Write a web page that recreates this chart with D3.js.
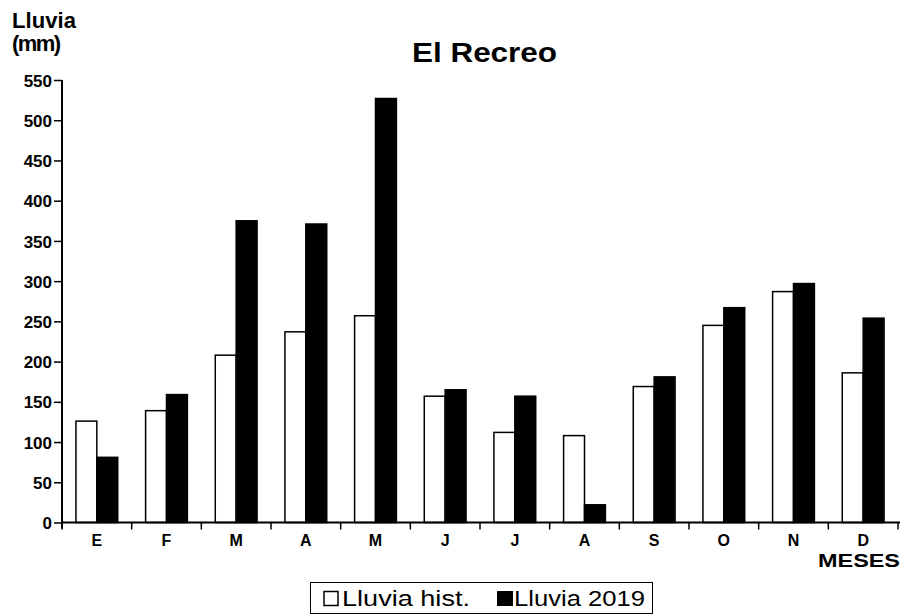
<!DOCTYPE html>
<html><head><meta charset="utf-8">
<script src="https://cdn.jsdelivr.net/npm/d3@7"></script>
<style>body{margin:0;background:#fff}svg{display:block}text{font-family:"Liberation Sans",Arial,sans-serif;font-weight:bold;fill:#000}</style>
</head><body>
<script>
const months = ["E","F","M","A","M","J","J","A","S","O","N","D"];
const lluviaHist = [126,139,208,237,257,157,112,108,169,245,287,186];
const lluvia2019 = [81,159,375,371,527,165,157,22,181,267,297,254];
const yTicks = [0,50,100,150,200,250,300,350,400,450,500,550];
const seriesNames = ["Lluvia hist.","Lluvia 2019"];

const W=904,H=614;
const svg=d3.select("body").append("svg").attr("width",W).attr("height",H);
const x0=62,x1=898,yb=522.5,yt=80;
const x=d3.scaleBand().domain(d3.range(months.length)).range([x0,x1]).paddingInner(0.4).paddingOuter(0.2);
const xs=d3.scaleBand().domain([0,1]).range([0,x.bandwidth()]);
const y=d3.scaleLinear().domain([0,550]).range([yb,yt]);

// bars
const g=svg.append("g");
months.forEach((m,i)=>{
  [lluviaHist[i],lluvia2019[i]].forEach((v,j)=>{
    g.append("rect").attr("x",x(i)+xs(j)).attr("y",y(v)).attr("width",xs.bandwidth()).attr("height",yb-y(v))
     .attr("fill",j===0?"#fff":"#000").attr("stroke","#000").attr("stroke-width",1.5);
  });
});

// y axis
const ya=svg.append("g").attr("transform",`translate(${x0},0)`).call(d3.axisLeft(y).tickValues(yTicks).tickSize(8).tickPadding(2));
ya.select(".domain").attr("stroke","#000").attr("stroke-width",2).attr("d",`M0,${yt}V${yb+6}`);
ya.selectAll(".tick line").attr("stroke-width",1.5);
ya.selectAll(".tick text").style("font-size","17px").attr("dy","0.36em");

// x axis
const step=(x1-x0)/months.length;
const xa=svg.append("g").attr("transform",`translate(0,${yb})`);
xa.append("line").attr("x1",x0).attr("x2",x1+2).attr("stroke","#000").attr("stroke-width",2);
d3.range(months.length+1).forEach(i=>{
  xa.append("line").attr("x1",x0+i*step).attr("x2",x0+i*step).attr("y1",0).attr("y2",7).attr("stroke","#000").attr("stroke-width",1.5);
});
months.forEach((m,i)=>{
  xa.append("text").attr("x",x(i)+x.bandwidth()/2).attr("y",23.5).attr("text-anchor","middle").style("font-size","16px").text(m);
});
svg.append("text").attr("x",818).attr("y",567).attr("textLength",82).attr("lengthAdjust","spacingAndGlyphs").style("font-size","19px").text("MESES");

// y title
svg.append("text").attr("x",12).attr("y",27.5).attr("textLength",64).style("font-size","22px").text("Lluvia");
svg.append("text").attr("x",12).attr("y",50.5).attr("textLength",49).style("font-size","22px").text("(mm)");
// title
svg.append("text").attr("x",412).attr("y",62).attr("textLength",145).attr("lengthAdjust","spacingAndGlyphs").style("font-size","27px").text("El Recreo");

// legend
const lg=svg.append("g");
lg.append("rect").attr("x",310.5).attr("y",582.5).attr("width",342).attr("height",31).attr("fill","#fff").attr("stroke","#000").attr("stroke-width",1);
lg.append("rect").attr("x",324).attr("y",591.5).attr("width",14).attr("height",14).attr("fill","#fff").attr("stroke","#000").attr("stroke-width",1.5);
lg.append("text").attr("x",342).attr("y",605.5).attr("textLength",128).attr("lengthAdjust","spacingAndGlyphs").style("font-size","22px").style("font-weight","normal").text(seriesNames[0]);
lg.append("rect").attr("x",497).attr("y",591).attr("width",16).attr("height",15).attr("fill","#000");
lg.append("text").attr("x",514).attr("y",605.5).attr("textLength",131).attr("lengthAdjust","spacingAndGlyphs").style("font-size","22px").style("font-weight","normal").text(seriesNames[1]);
</script>
</body></html>
